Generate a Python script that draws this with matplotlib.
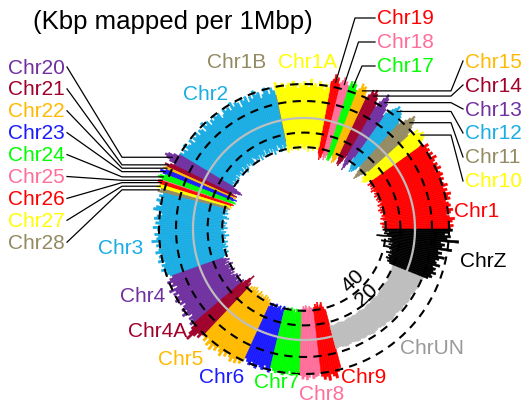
import numpy as np
import matplotlib.pyplot as plt

plt.rcParams['font.family'] = ['Liberation Sans', 'DejaVu Sans']

# chromosome order (string-sorted, drawn counter-clockwise from east), sizes in Mbp
chrom_names = ["Chr1", "Chr10", "Chr11", "Chr12", "Chr13", "Chr14", "Chr15",
               "Chr17", "Chr18", "Chr19", "Chr1A", "Chr1B", "Chr2",
               "Chr20", "Chr21", "Chr22", "Chr23", "Chr24", "Chr25", "Chr26",
               "Chr27", "Chr28", "Chr3", "Chr4", "Chr4A", "Chr5", "Chr6",
               "Chr7", "Chr8", "Chr9", "ChrUN", "ChrZ"]
chrom_sizes = [118.55, 20.81, 21.40, 21.58, 16.96, 16.42, 14.43,
               11.65, 11.20, 11.59, 73.66, 1.08, 156.41,
               15.65, 5.98, 3.37, 6.20, 8.02, 1.28, 4.91,
               4.62, 4.96, 112.62, 69.78, 20.70, 62.37, 36.31,
               39.84, 27.99, 27.24, 176.70, 72.86]

RED, YEL, OLV, SKY, PUR = "#FF0000", "#FFFF00", "#948A62", "#1AADE4", "#7030A0"
DRD, ORG, BLU, GRN, PNK = "#A0002A", "#FFBA00", "#1A1AFF", "#00FF00", "#FF6E9A"
chrom_colors = [RED, YEL, OLV, SKY, PUR, DRD, ORG,
                GRN, PNK, RED, YEL, OLV, SKY,
                PUR, DRD, ORG, BLU, GRN, PNK, RED,
                YEL, OLV, SKY, PUR, DRD, ORG, BLU,
                GRN, PNK, RED, "#BEBEBE", "#000000"]

chr1_vals = [42, 45, 40, 44, 47, 41, 38, 43, 46, 40, 44, 42, 39, 45, 43, 47, 41, 44, 40, 46,
             42, 39, 44, 41, 45, 43, 38, 46, 42, 44, 40, 43, 47, 41, 45, 39, 44, 42, 46, 41]
chr10_vals = [36, 42, 45, 48, 44, 50, 46, 43, 47, 40]
chr11_vals = [34, 40, 44, 48, 52, 55, 50, 45, 40, 36]
chr12_vals = [38, 44, 47, 50, 46, 52, 48, 45, 42, 37]
chr13_vals = [32, 40, 46, 52, 56, 50, 44, 36]
chr14_vals = [40, 46, 50, 54, 49, 52, 45, 40]
chr15_vals = [42, 48, 52, 50, 54, 47, 44]
chr17_vals = [44, 50, 53, 49, 52, 46]
chr18_vals = [46, 50, 48, 54, 50, 47]
chr19_vals = [45, 52, 50, 55, 49, 46]
chr1A_vals = [38, 42, 35, 40, 44, 37, 41, 39, 46, 36, 40, 43, 38, 41, 35, 39, 44, 37, 42, 40,
              36, 43, 39, 41, 45]
chr1B_vals = [30]
chr2_vals = [36, 40, 33, 38, 42, 35, 31, 39, 37, 43, 34, 38, 32, 40, 36, 41, 30, 37, 39, 35,
             42, 33, 38, 36, 40, 34, 31, 39, 37, 41, 35, 38, 33, 40, 36, 43, 32, 37, 39, 34,
             41, 36, 38, 33, 40, 35, 37, 42, 34, 38, 36, 40]
chr20_vals = [40, 46, 52, 55, 52, 47, 40]
chr21_vals = [44, 50, 46]
chr22_vals = [48, 50]
chr23_vals = [46, 52, 48]
chr24_vals = [44, 50, 52, 46]
chr25_vals = [48]
chr26_vals = [50, 47]
chr27_vals = [46, 49]
chr28_vals = [44, 47]
chr3_vals = [40, 44, 38, 46, 42, 39, 45, 48, 41, 37, 43, 46, 40, 44, 39, 47, 42, 38, 45, 41,
             43, 49, 40, 44, 38, 42, 46, 39, 43, 41, 45, 37, 42, 40, 44, 38, 41, 36]
chr4_vals = [34, 38, 42, 36, 40, 33, 44, 37, 41, 35, 39, 43, 36, 40, 34, 38, 42, 37, 45, 39,
             35, 41, 38, 44]
chr4A_vals = [40, 46, 52, 58, 50, 44, 48, 42]
chr5_vals = [42, 46, 40, 48, 44, 50, 43, 47, 41, 45, 49, 42, 46, 40, 44, 48, 43, 47, 41, 45, 39]
chr6_vals = [36, 39, 42, 37, 41, 43, 38, 40, 42, 36, 40, 43]
chr7_vals = [37, 40, 42, 38, 41, 43, 39, 41, 37, 42, 40, 38, 41]
chr8_vals = [42, 46, 43, 47, 44, 41, 46, 44, 43, 40]
chr9_vals = [44, 48, 45, 50, 43, 46, 49, 42, 38]
chrUN_vals = [15, 14, 15, 16, 15, 14, 15, 16, 15, 16, 15, 16, 17, 16, 15, 16, 17, 16, 17, 18,
              17, 16, 17, 18, 17, 18, 19, 18, 17, 18, 19, 20, 19, 20, 21]
chrZ_vals = [26, 30, 28, 33, 29, 31, 27, 35, 30, 28, 32, 38, 30, 34, 29, 45, 33, 36, 31, 52,
             38, 42, 35, 40, 44]

chrom_values = [chr1_vals, chr10_vals, chr11_vals, chr12_vals, chr13_vals, chr14_vals,
                chr15_vals, chr17_vals, chr18_vals, chr19_vals, chr1A_vals, chr1B_vals,
                chr2_vals, chr20_vals, chr21_vals, chr22_vals, chr23_vals, chr24_vals,
                chr25_vals, chr26_vals, chr27_vals, chr28_vals, chr3_vals, chr4_vals,
                chr4A_vals, chr5_vals, chr6_vals, chr7_vals, chr8_vals, chr9_vals,
                chrUN_vals, chrZ_vals]

ring_ticks = [20, 40]

# layout (pixels)
W, H = 524, 410
CX, CY = 304, 230
RMAX = 175
R0 = 111          # baseline ring
K_OUT, K_IN = 0.85, 0.73

fig = plt.figure(figsize=(W / 100, H / 100), dpi=100)
ax = fig.add_axes([(CX - RMAX) / W, (H - CY - RMAX) / H, 2 * RMAX / W, 2 * RMAX / H],
                  projection="polar")
ax.set_ylim(0, RMAX)
ax.set_axis_off()

total = sum(chrom_sizes)
mids = {}
start = 0.0
for name, size, color, vals in zip(chrom_names, chrom_sizes, chrom_colors, chrom_values):
    v = np.asarray(vals, dtype=float)
    n = len(v)
    w = size / n
    centers = start + w * (np.arange(n) + 0.5)
    ax.bar(2 * np.pi * centers / total, v * (K_IN + K_OUT), width=2 * np.pi * w / total,
           bottom=R0 - v * K_IN, color=color, edgecolor=color, linewidth=0.4,
           align="center", zorder=2)
    mids[name] = 2 * np.pi * (start + size / 2) / total
    start += size

t = np.linspace(0, 2 * np.pi, 721)
ax.plot(t, np.full_like(t, R0), color="#BEBEBE", lw=1.6, zorder=3)
for v in ring_ticks:
    for r in (R0 - v * K_IN, R0 + v * K_OUT):
        ax.plot(t, np.full_like(t, r), color="black", lw=1.5,
                linestyle=(0, (4, 3)), zorder=4)
    ax.text(np.deg2rad(-46), R0 - v * 1.02, str(v), rotation=44, ha="center",
            va="center", fontsize=15, zorder=5)

# overlay in pixel coordinates for labels and leader lines
lay = fig.add_axes([0, 0, 1, 1], zorder=5)
lay.set_xlim(0, W)
lay.set_ylim(H, 0)
lay.set_axis_off()
lay.patch.set_alpha(0)


def tip(name, r=150):
    disp = ax.transData.transform((mids[name], r))
    return lay.transData.inverted().transform(disp)


label_color = dict(zip(chrom_names, chrom_colors))
label_color["ChrUN"] = "#999999"
FS = 15

plain_labels = [("Chr1", 477, 212), ("ChrZ", 483, 262), ("ChrUN", 432, 349),
                ("Chr9", 364, 378), ("Chr8", 322, 395), ("Chr7", 277, 383),
                ("Chr6", 222, 378), ("Chr5", 181, 360), ("Chr4A", 158, 332),
                ("Chr4", 143, 297), ("Chr3", 121, 249), ("Chr2", 206, 95),
                ("Chr1B", 237, 62), ("Chr1A", 308, 62)]
for name, x, y in plain_labels:
    lay.text(x, y, name, color=label_color[name], fontsize=FS, ha="center", va="center")

# top group
for i, name in enumerate(["Chr19", "Chr18", "Chr17"]):
    y = 19 + 24 * i
    ex, ey = tip(name)
    lay.plot([375, 355 + 3.5 * i, ex], [y, y, ey], color="black", lw=0.9)
    lay.text(377, y, name, color=label_color[name], fontsize=FS, ha="left", va="center")

# right group
for i, name in enumerate(["Chr15", "Chr14", "Chr13", "Chr12", "Chr11", "Chr10"]):
    y = 62 + 24 * i
    ex, ey = tip(name)
    lay.plot([463, 451, ex], [y, ey, ey], color="black", lw=0.9)
    lay.text(465, y, name, color=label_color[name], fontsize=FS, ha="left", va="center")

# left group
for i, name in enumerate(["Chr20", "Chr21", "Chr22", "Chr23", "Chr24", "Chr25",
                          "Chr26", "Chr27", "Chr28"]):
    y = 68 + 21.9 * i
    ex, ey = tip(name)
    lay.plot([67, 122, ex], [y, ey, ey], color="black", lw=0.9)
    lay.text(65, y, name, color=label_color[name], fontsize=FS, ha="right", va="center")

lay.text(173, 22, "(Kbp mapped per 1Mbp)", fontsize=18.5, ha="center", va="center")

fig.savefig("out.png", dpi=100)
